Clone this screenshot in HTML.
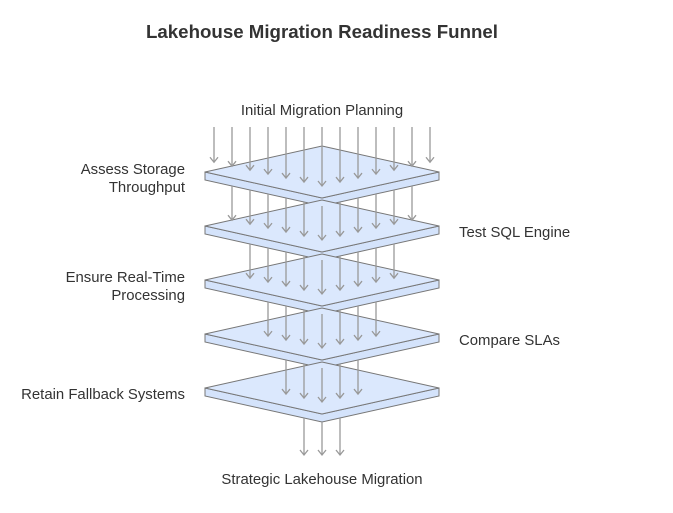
<!DOCTYPE html><html><head><style>body{margin:0;background:#fff}</style></head><body>
<svg width="673" height="508" xmlns="http://www.w3.org/2000/svg" font-family="Liberation Sans, sans-serif">
<text x="322" y="38" text-anchor="middle" font-size="18.7" font-weight="bold" fill="#333">Lakehouse Migration Readiness Funnel</text>
<g font-size="14.9" fill="#333">
<text x="322" y="115" text-anchor="middle">Initial Migration Planning</text>
<text x="185" y="174" text-anchor="end">Assess Storage</text>
<text x="185" y="192" text-anchor="end">Throughput</text>
<text x="459" y="237">Test SQL Engine</text>
<text x="185" y="282" text-anchor="end">Ensure Real-Time</text>
<text x="185" y="300" text-anchor="end">Processing</text>
<text x="459" y="345">Compare SLAs</text>
<text x="185" y="399" text-anchor="end">Retain Fallback Systems</text>
<text x="322" y="484" text-anchor="middle">Strategic Lakehouse Migration</text>
</g>
<g id="d"></g>
</svg>
<script>
const NS="http://www.w3.org/2000/svg",g=document.getElementById('d');
function el(t,a){const e=document.createElementNS(NS,t);for(const k in a)e.setAttribute(k,a[k]);g.appendChild(e);}
const tops=[146,200,254,308,362],cx=322,hw=117,hh=26,th=8;
function arrow(x,y1,y2){el('line',{x1:x,y1:y1,x2:x,y2:y2,stroke:'#999','stroke-width':1.3});el('polyline',{points:`${x-4},${y2-5} ${x},${y2} ${x+4},${y2-5}`,fill:'none',stroke:'#999','stroke-width':1.3});}
function plate(t){
el('polygon',{points:`${cx-hw},${t+hh} ${cx},${t+2*hh} ${cx+hw},${t+hh} ${cx+hw},${t+hh+th} ${cx},${t+2*hh+th} ${cx-hw},${t+hh+th}`,fill:'#d4e3fb',stroke:'#777','stroke-width':1});
el('polygon',{points:`${cx},${t} ${cx+hw},${t+hh} ${cx},${t+2*hh} ${cx-hw},${t+hh}`,fill:'#dbe8fd',stroke:'#777','stroke-width':1});
}
const counts=[13,11,9,7,5,3];
for(let k=0;k<6;k++){
 if(k<5)plate(tops[k]);
 const n=counts[k];
 for(let i=0;i<n;i++){
  const x=cx+(i-(n-1)/2)*18,dx=Math.abs(x-cx);
  const y1=k==0?127:tops[k-1]+2*hh+th-dx*hh/hw;
  const y2=k<5?tops[k]+40-dx*0.22:455;
  arrow(x,y1,y2);
 }
}
</script>
</body></html>
